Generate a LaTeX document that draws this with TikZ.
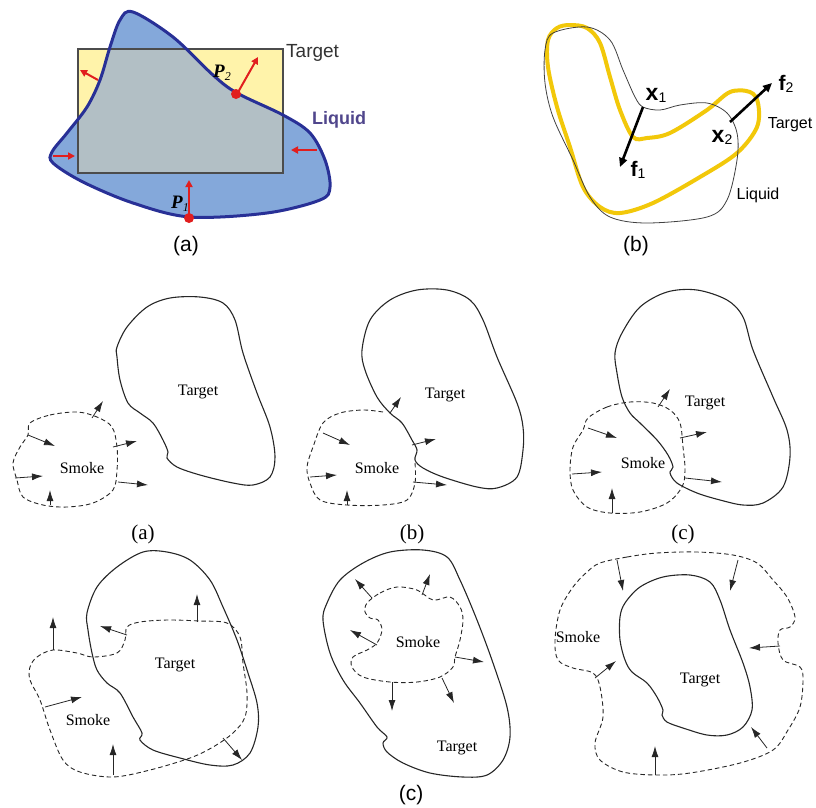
\documentclass[tikz,border=0pt]{standalone}
\usepackage{fontspec}
\setmainfont{Liberation Serif}
\setsansfont{Liberation Sans}
\usetikzlibrary{arrows.meta}
\definecolor{rectyellow}{RGB}{255,243,170}
\definecolor{liqblue}{RGB}{132,168,218}
\definecolor{overgray}{RGB}{178,191,197}
\definecolor{navy}{RGB}{40,48,150}
\definecolor{redarr}{RGB}{225,30,30}
\definecolor{liqtext}{RGB}{80,70,140}
\definecolor{gold}{RGB}{242,200,10}
\tikzset{
  tgt/.style={line width=1.1pt, black!85},
  smk/.style={line width=0.9pt, black!85, dash pattern=on 4.5pt off 3pt},
  varr/.style={line width=0.8pt, black!85, -{Latex[length=11pt,width=7pt]}},
  rarr/.style={line width=2pt, redarr, -{Triangle[length=7pt,width=7pt]}},
  barr/.style={line width=2.6pt, black, -{Triangle[length=9pt,width=8pt]}},
  serlab/.style={font=\fontsize{16}{16}\selectfont},
  caplab/.style={font=\fontsize{21}{21}\selectfont},
  sanscap/.style={font=\sffamily\fontsize{21}{21}\selectfont},
}
\begin{document}
\begin{tikzpicture}[x=1pt,y=-1pt]
\useasboundingbox (0,0) rectangle (816,807);
% ---------------- top (a) ----------------
\def\blob{plot[smooth cycle, tension=0.55] coordinates {(133,12) (173,37) (213,75) (237,93) (283,115) (310,133) (325,160) (330,187) (320,200) (267,213) (190,217) (133,203) (83,182) (53,163) (52,152) (67,133) (87,107) (100,80) (110,47) (120,20)}}
\def\trect{(78,49) rectangle (283,173)}
\fill[rectyellow] \trect;
\fill[liqblue] \blob;
\begin{scope}
  \clip \blob;
  \fill[overgray] \trect;
\end{scope}
\draw[line width=1.3pt, black!70] \trect;
\draw[line width=3pt, navy] \blob;
\draw[rarr] (98,80) -- (80,70);
\draw[rarr] (237,94) -- (258,57);
\draw[rarr] (53,156) -- (75,156);
\draw[rarr] (317,150) -- (291,150);
\draw[rarr] (189,218) -- (189,180);
\fill[redarr] (236,94) circle (5pt);
\fill[redarr] (189,218) circle (5pt);
\node[font=\fontsize{19}{19}\selectfont] (p2) at (222,73) {\textbf{\textit{P}}\raisebox{-3pt}{\fontsize{12}{12}\selectfont\textit{2}}};
\node[font=\fontsize{19}{19}\selectfont] (p1) at (180,204) {\textbf{\textit{P}}\raisebox{-3pt}{\fontsize{12}{12}\selectfont\textit{1}}};
\node[anchor=west, font=\sffamily\fontsize{19}{19}\selectfont, text=black!80, inner sep=0pt] (ta) at (286,53) {Target};
\node[anchor=west, font=\sffamily\bfseries\fontsize{18}{18}\selectfont, text=liqtext, inner sep=0pt] (la) at (312,120) {Liquid};
\node[sanscap] (capa) at (186,246) {(a)};
% ---------------- top (b) ----------------
\draw[line width=4pt, gold] plot[smooth cycle, tension=0.55] coordinates {(570,25) (587,28) (600,43) (610,77) (620,110) (633,137) (647,138) (670,133) (707,110) (730,92) (750,92) (758,103) (757,127) (737,153) (700,177) (653,203) (620,213) (600,207) (583,187) (570,147) (557,107) (548,67) (548,40) (557,28)};
\draw[line width=0.8pt, black!75] plot[smooth cycle, tension=0.55] coordinates {(553,33) (587,27) (610,40) (623,70) (635,97) (643,107) (660,110) (680,105) (707,103) (727,113) (737,133) (737,160) (727,200) (707,217) (647,223) (610,217) (590,197) (573,160) (553,117) (545,83) (545,50)};
\draw[barr] (643,107) -- (620,167);
\draw[barr] (730,122) -- (772,83);
\node[font=\sffamily\fontsize{23}{23}\selectfont] (x1) at (656,95) {\textbf{x}\raisebox{-2pt}{\fontsize{14}{14}\selectfont 1}};
\node[font=\sffamily\fontsize{23}{23}\selectfont] (x2) at (722,137) {\textbf{x}\raisebox{-2pt}{\fontsize{14}{14}\selectfont 2}};
\node[font=\sffamily\fontsize{21}{21}\selectfont] (f1) at (638,170) {\textbf{f}\raisebox{-2pt}{\fontsize{14}{14}\selectfont 1}};
\node[font=\sffamily\fontsize{21}{21}\selectfont] (f2) at (786,84) {\textbf{f}\raisebox{-2pt}{\fontsize{14}{14}\selectfont 2}};
\node[font=\sffamily\fontsize{16}{16}\selectfont] (tb) at (790,125) {Target};
\node[font=\sffamily\fontsize{16}{16}\selectfont] (lb) at (758,195) {Liquid};
\node[sanscap] (capb) at (636,246) {(b)};
% ---------------- row 1 (a) ----------------
\draw[tgt] plot[smooth cycle, tension=0.55] coordinates {(117,347) (127,327) (147,307) (170,298) (200,297) (223,303) (235,320) (243,353) (257,393) (270,427) (275,457) (270,477) (253,485) (233,483) (200,475) (177,467) (167,458) (168,452) (163,440) (153,423) (140,413) (128,403) (120,380) (117,357)};
\draw[smk] plot[smooth cycle, tension=0.55] coordinates {(30,423) (50,415) (77,412) (97,417) (112,427) (117,447) (117,470) (113,490) (93,503) (67,507) (43,505) (23,497) (17,480) (13,463) (20,447) (28,435)};
\draw[varr] (92,418) -- (103,401);
\draw[varr] (28,435) -- (55,446);
\draw[varr] (113,447) -- (137,441);
\draw[varr] (15,478) -- (43,476);
\draw[varr] (50,505) -- (50,490);
\draw[varr] (118,482) -- (148,485);
\node[serlab] (t1a) at (198,392) {Target};
\node[serlab] (s1a) at (82,468) {Smoke};
\node[caplab] (c1a) at (143,534) {(a)};
% ---------------- row 1 (b) ----------------
\draw[tgt] plot[smooth cycle, tension=0.55] coordinates {(362,350) (370,320) (390,300) (417,290) (447,290) (470,300) (483,320) (497,357) (517,403) (523,427) (523,450) (517,477) (497,488) (477,487) (443,477) (423,468) (415,460) (417,450) (412,440) (402,423) (390,413) (377,397) (365,370)};
\draw[smk] plot[smooth, tension=0.55] coordinates {(383,412) (363,410) (340,413) (323,423) (313,447) (307,467) (310,483) (320,500) (347,505) (383,505) (407,500) (415,483) (415,463)};
\draw[varr] (390,413) -- (401,397);
\draw[varr] (323,433) -- (350,445);
\draw[varr] (412,445) -- (436,439);
\draw[varr] (310,477) -- (337,475);
\draw[varr] (347,505) -- (347,490);
\draw[varr] (413,482) -- (447,485);
\node[serlab] (t1b) at (445,395) {Target};
\node[serlab] (s1b) at (377,468) {Smoke};
\node[caplab] (c1b) at (412,534) {(b)};
% ---------------- row 1 (c) ----------------
\draw[tgt] plot[smooth cycle, tension=0.55] coordinates {(615,353) (622,333) (640,307) (667,292) (697,290) (727,300) (743,317) (753,350) (773,397) (787,430) (790,457) (783,487) (763,503) (743,505) (720,500) (697,493) (677,483) (670,473) (673,467) (668,455) (657,440) (640,423) (630,413) (622,397) (617,373)};
\draw[smk] plot[smooth cycle, tension=0.55] coordinates {(588,418) (607,407) (630,402) (653,403) (670,410) (680,423) (683,447) (685,470) (682,487) (667,503) (640,512) (610,513) (587,507) (573,490) (570,470) (573,447) (583,430)};
\draw[varr] (658,407) -- (670,389);
\draw[varr] (588,428) -- (617,438);
\draw[varr] (680,438) -- (707,432);
\draw[varr] (572,474) -- (602,472);
\draw[varr] (612,513) -- (612,488);
\draw[varr] (685,478) -- (722,482);
\node[serlab] (t1c) at (705,403) {Target};
\node[serlab] (s1c) at (643,463) {Smoke};
\node[caplab] (c1c) at (683,534) {(c)};
% ---------------- row 2 (a) ----------------
\draw[tgt] plot[smooth cycle, tension=0.55] coordinates {(87,613) (97,587) (117,567) (143,552) (167,552) (190,560) (210,580) (223,607) (237,640) (248,673) (257,703) (258,727) (250,753) (233,765) (210,765) (180,758) (153,750) (140,740) (142,733) (133,717) (120,693) (107,683) (97,670) (92,653) (88,630)};
\draw[smk] plot[smooth cycle, tension=0.55] coordinates {(30,667) (37,657) (53,650) (77,653) (93,657) (117,653) (125,640) (127,627) (140,622) (167,620) (200,621) (227,623) (240,637) (243,663) (247,693) (245,717) (233,733) (213,747) (190,758) (150,770) (113,777) (80,772) (63,760) (50,730) (40,700) (30,680)};
\draw[varr] (53,650) -- (53,617);
\draw[varr] (127,635) -- (100,626);
\draw[varr] (197,622) -- (197,594);
\draw[varr] (45,707) -- (82,697);
\draw[varr] (113,775) -- (113,744);
\draw[varr] (223,738) -- (242,760);
\node[serlab] (t2a) at (175,665) {Target};
\node[serlab] (s2a) at (88,720) {Smoke};
% ---------------- row 2 (b) ----------------
\draw[tgt] plot[smooth cycle, tension=0.55] coordinates {(323,620) (327,603) (340,580) (363,563) (390,552) (423,550) (447,557) (460,580) (477,620) (493,663) (507,707) (510,737) (503,760) (487,775) (463,777) (430,773) (403,763) (387,752) (383,743) (387,737) (377,727) (360,703) (343,680) (330,653)};
\draw[smk] plot[smooth cycle, tension=0.55] coordinates {(367,603) (380,593) (397,587) (417,590) (433,600) (450,597) (460,607) (463,620) (460,640) (455,657) (453,667) (440,677) (417,682) (390,682) (363,677) (352,667) (353,657) (367,650) (377,643) (382,630) (378,620) (370,618) (365,612)};
\draw[varr] (372,598) -- (355,579);
\draw[varr] (422,595) -- (430,574);
\draw[varr] (377,645) -- (350,630);
\draw[varr] (455,657) -- (484,662);
\draw[varr] (392,682) -- (392,711);
\draw[varr] (442,678) -- (454,703);
\node[serlab] (s2b) at (418,642) {Smoke};
\node[serlab] (t2b) at (457,748) {Target};
% ---------------- row 2 (c) ----------------
\draw[tgt] plot[smooth cycle, tension=0.55] coordinates {(620,617) (625,603) (640,587) (663,577) (690,575) (710,582) (720,600) (730,630) (743,663) (750,687) (752,710) (743,727) (727,735) (707,735) (683,728) (667,722) (662,715) (663,710) (657,697) (647,683) (632,672) (625,660) (620,640)};
\draw[smk] plot[smooth cycle, tension=0.55] coordinates {(600,563) (627,557) (657,553) (697,552) (733,555) (757,563) (773,580) (787,597) (795,617) (790,627) (780,630) (778,643) (783,660) (800,667) (803,680) (800,707) (788,730) (773,750) (740,763) (690,773) (657,775) (623,772) (600,760) (595,743) (603,717) (600,687) (593,673) (573,668) (558,660) (555,640) (560,610) (573,587) (587,572)};
\draw[varr] (617,560) -- (623,591);
\draw[varr] (738,560) -- (730,591);
\draw[varr] (780,646) -- (749,648);
\draw[varr] (595,678) -- (616,661);
\draw[varr] (655,775) -- (655,746);
\draw[varr] (767,748) -- (751,727);
\node[serlab] (s2c) at (578,637) {Smoke};
\node[serlab] (t2c) at (700,680) {Target};
\node[sanscap] (c2) at (411,795) {(c)};
\end{tikzpicture}
\end{document}
